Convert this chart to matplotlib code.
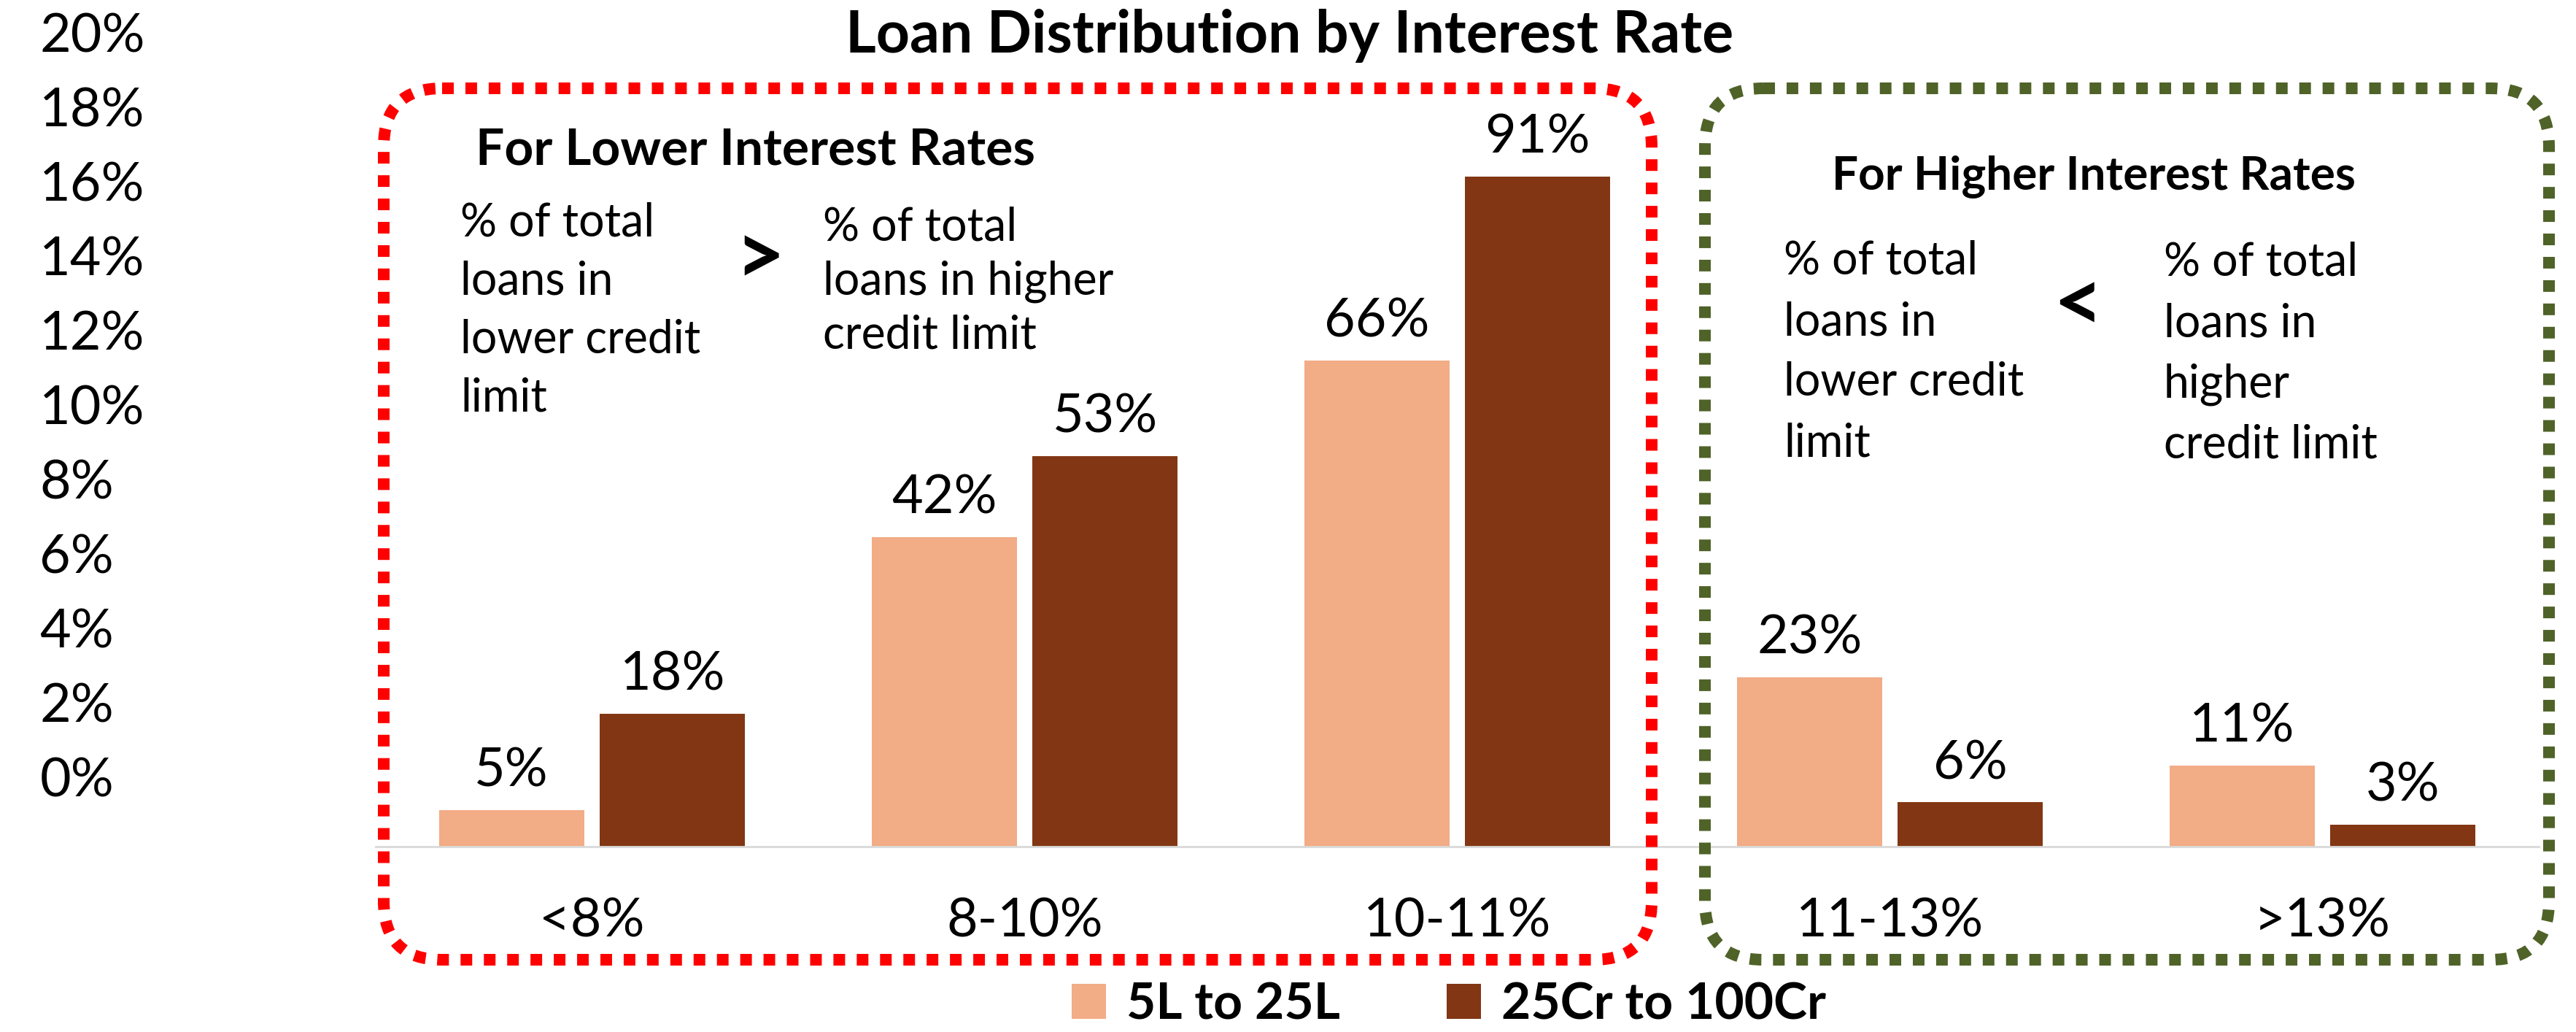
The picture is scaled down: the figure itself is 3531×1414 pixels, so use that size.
import matplotlib.pyplot as plt
import numpy as np
from matplotlib.patches import FancyBboxPatch
from matplotlib.ticker import PercentFormatter

plt.rcParams['font.family'] = ['Lato', 'DejaVu Sans']

rate_bands = ['<8%', '8-10%', '10-11%', '11-13%', '>13%']
small_limit = [5, 42, 66, 23, 11]    # 5L to 25L
large_limit = [18, 53, 91, 6, 3]     # 25Cr to 100Cr
series_names = ['5L to 25L', '25Cr to 100Cr']
y_ticks = np.arange(0, 0.21, 0.02)

lower_left = ['% of total', 'loans in', 'lower credit', 'limit']
lower_right = ['% of total', 'loans in higher', 'credit limit']
higher_left = ['% of total', 'loans in', 'lower credit', 'limit']
higher_right = ['% of total', 'loans in', 'higher', 'credit limit']

light = '#F2AC86'
dark = '#823613'
green = '#4F6228'

W, H = 3531, 1414
fig = plt.figure(figsize=(W / 100, H / 100), dpi=100)

# bars
ax = fig.add_axes([515 / W, (H - 1160) / H, 2965 / W, 1009 / H])
x = np.arange(len(rate_bands))
b1 = ax.bar(x - 0.186, small_limit, 0.335, color=light, label=series_names[0])
b2 = ax.bar(x + 0.186, large_limit, 0.335, color=dark, label=series_names[1])
for b in (b1, b2):
    ax.bar_label(b, labels=['%d%%' % v for v in b.datavalues], padding=14, fontsize=53)
ax.set_xlim(-0.5, 4.5)
ax.set_ylim(0, 100)
ax.set_xticks(x, rate_bands, fontsize=53)
ax.tick_params(axis='x', length=0, pad=50)
ax.set_yticks([])
for s in ['left', 'right', 'top']:
    ax.spines[s].set_visible(False)
ax.spines['bottom'].set_color('#D9D9D9')
ax.spines['bottom'].set_linewidth(2)
ax.patch.set_alpha(0)

# loose y scale on the left (not tied to the bars, as in the slide)
ay = fig.add_axes([54 / W, (H - 1064) / H, 0.0001, 1019 / H])
ay.set_ylim(0, 0.20)
ay.set_yticks(y_ticks)
ay.yaxis.set_major_formatter(PercentFormatter(1.0, decimals=0))
ay.yaxis.tick_right()
ay.tick_params(axis='y', length=0, pad=0, labelsize=53)
ay.set_xticks([])
for s in ay.spines.values():
    s.set_visible(False)
ay.patch.set_alpha(0)

fig.legend(handles=[b1, b2], loc='center', bbox_to_anchor=(1986 / W, 1 - 1377 / H), ncol=2,
           frameon=False, prop={'weight': 'bold', 'size': 50}, handlelength=0.68,
           handleheight=0.69, handletextpad=0.4, columnspacing=2.1)

# overlay in pixel units for boxes and notes
ov = fig.add_axes([0, 0, 1, 1])
ov.set_xlim(0, W)
ov.set_ylim(H, 0)
ov.axis('off')
for x0, x1, c in [(526, 2264, 'red'), (2337, 3494, green)]:
    ov.add_patch(FancyBboxPatch((x0, 121), x1 - x0, 1315 - 121,
                                boxstyle='round,pad=0,rounding_size=80', fill=False,
                                ec=c, lw=11.5, ls=(0, (1, 1))))

ov.text(1768, 72, 'Loan Distribution by Interest Rate', ha='center', va='baseline',
        fontsize=58, weight='bold')
ov.text(1036, 226, 'For Lower Interest Rates', ha='center', va='baseline', fontsize=50, weight='bold')
ov.text(2870, 259, 'For Higher Interest Rates', ha='center', va='baseline', fontsize=46, weight='bold')


def note(lines, x0, y0, step):
    for i, t in enumerate(lines):
        ov.text(x0, y0 + i * step, t, ha='left', va='baseline', fontsize=45)


note(lower_left, 631, 324, 79.7)
note(lower_right, 1128, 330, 73.5)
note(higher_left, 2445, 376, 83)
note(higher_right, 2966, 378, 83)
ov.text(1041, 357, '>', ha='center', va='center', fontsize=85, weight='bold')
ov.text(2848, 421, '<', ha='center', va='center', fontsize=85, weight='bold')

plt.savefig('out.png', dpi=100)
